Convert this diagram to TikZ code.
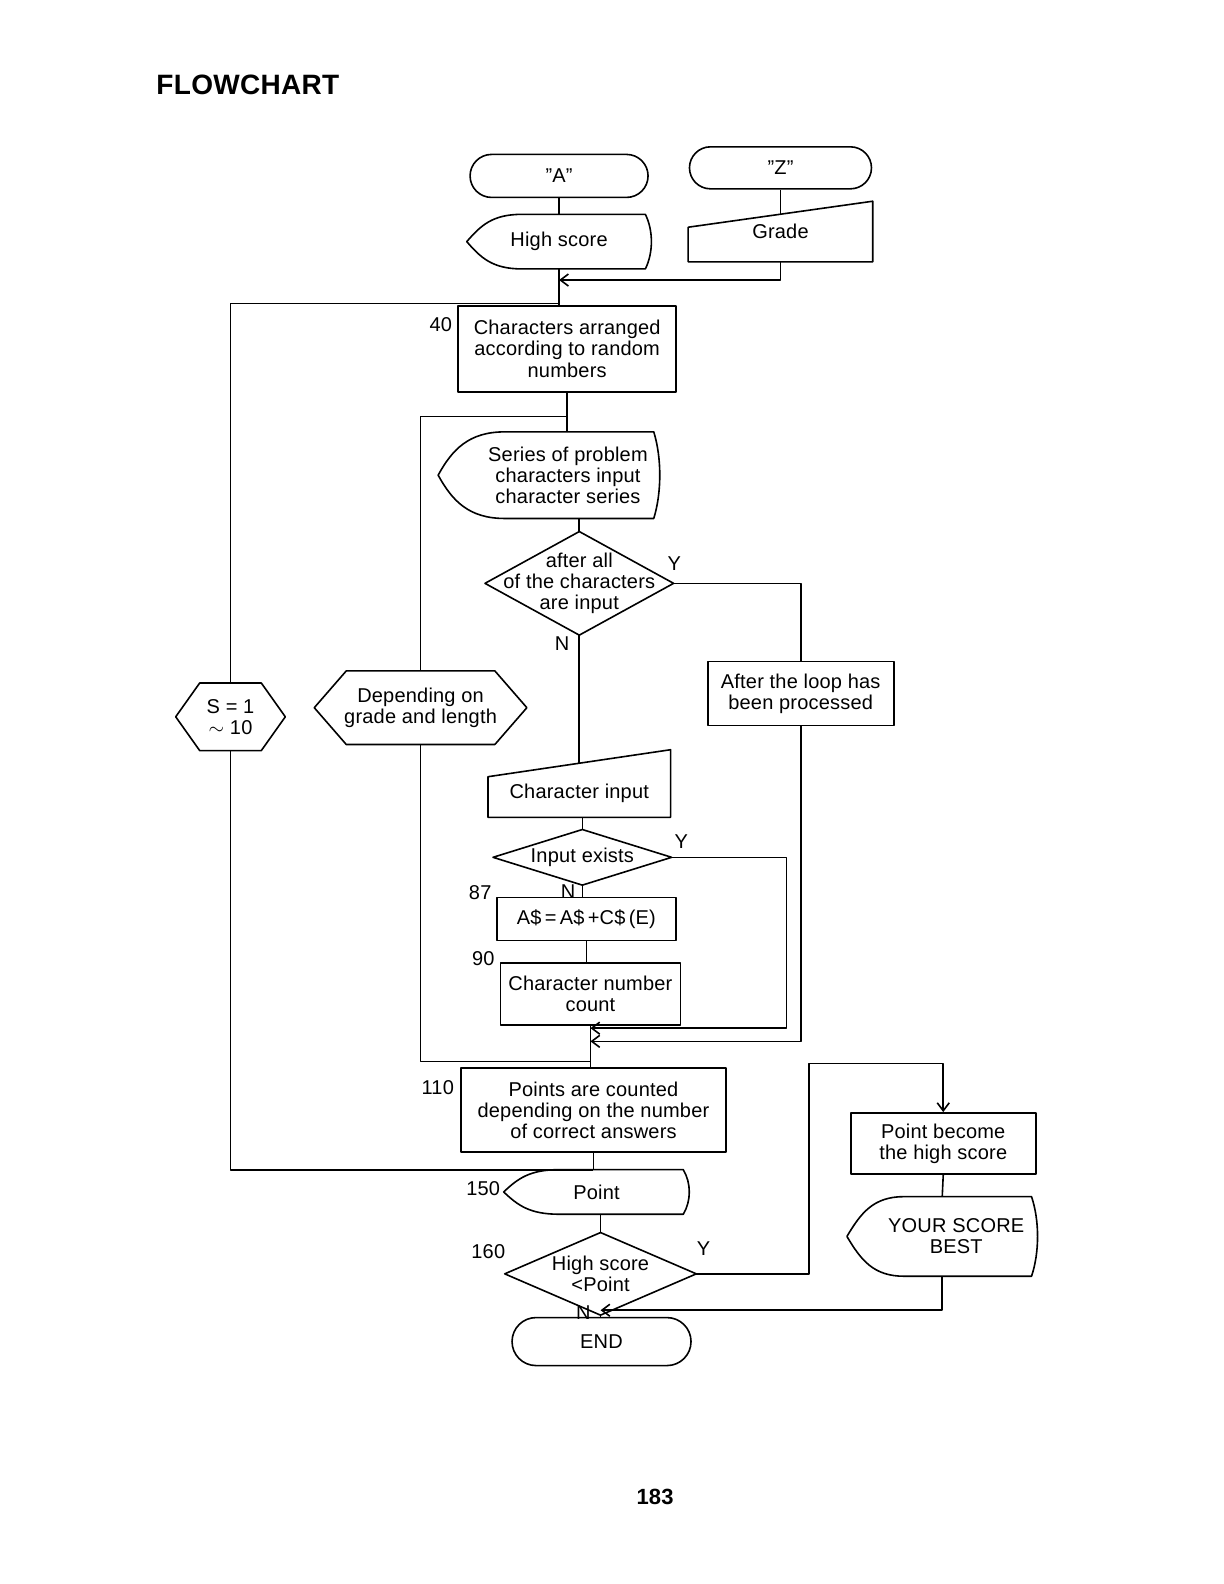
\documentclass[tikz,border=0pt]{standalone}
\usepackage{fontspec}
\setmainfont{Liberation Sans}[LetterSpace=1]
\usetikzlibrary{shapes.misc,calc,arrows.meta}

% outlines drawn from the anchors of a plain node
\newcommand\dispout[1]{\draw (#1.west) .. controls ($(#1.west)!.6!(#1.north west)+(14,0)$) and ($(#1.north west)!.14!(#1.north east)$) .. ($(#1.north west)!.3!(#1.north east)$) -- ([xshift=-3pt]#1.north east) .. controls ($(#1.north east)!.3!(#1.south east)+(2,0)$) and ($(#1.south east)!.3!(#1.north east)+(2,0)$) .. ([xshift=-3pt]#1.south east) -- ($(#1.south west)!.3!(#1.south east)$) .. controls ($(#1.south west)!.14!(#1.south east)$) and ($(#1.west)!.6!(#1.south west)+(14,0)$) .. (#1.west) -- cycle;}
\newcommand\manout[2]{\draw ([yshift=-#2]#1.north west) -- (#1.north east) -- (#1.south east) -- (#1.south west) -- cycle;}
\newcommand\hexout[2]{\draw (#1.west) -- ([xshift=#2]#1.north west) -- ([xshift=-#2]#1.north east) -- (#1.east) -- ([xshift=-#2]#1.south east) -- ([xshift=#2]#1.south west) -- cycle;}
\newcommand\decout[1]{\draw (#1.west) -- (#1.north) -- (#1.east) -- (#1.south) -- cycle;}

\tikzset{
  base/.style={inner sep=0pt, align=center},
  term/.style={base, draw, rounded rectangle},
  proc/.style={base, draw, rectangle},
  disp/.style={base},
  minput/.style={base},
  dec/.style={base},
  prep/.style={base},
  sz/.style 2 args={minimum width=#1, minimum height=#2},
}

\begin{document}
\begin{tikzpicture}[x=0.5055pt,y=-0.5055pt,line width=0.8pt,line join=round,
    >={Straight Barb[length=4pt,width=6pt]},font=\fontsize{10}{10.6}\selectfont]
\useasboundingbox (0,0) rectangle (1210.7,1566.8);

\node[anchor=west,inner sep=0pt,font=\bfseries\fontsize{14}{16}\selectfont] (title) at (154,84) {FLOWCHART};

% start
\node[term, sz={89pt}{21.5pt}] (A) at (553,174) {''A''};
\node[term, sz={91pt}{21pt}] (Z) at (772,166) {''Z''};
\node[disp, sz={91.5pt}{26.5pt}] (hs) at (553,239) {High score};
\node[minput, sz={91.5pt}{29.5pt}] (grade) at (772,229) {Grade};
\node[proc, sz={109pt}{43pt}] (b40) at (561,345) {Characters arranged\\according to random\\numbers};
\node[disp, sz={110pt}{42.5pt}, label={[base,xshift=9.5pt]center:Series of problem\\characters input\\character series}] (series) at (543,470) {};
\node[dec, sz={93.5pt}{51pt}] (d1) at (573,577) {after all\\of the characters\\are input};
\node[proc, sz={93pt}{32pt}] (after) at (792,686) {After the loop has\\been processed};
\node[minput, sz={90.5pt}{33pt}, label={[base,yshift=-5pt]center:Character input}] (cin) at (573,775) {};
\node[dec, sz={88.5pt}{27pt}] (d2) at (576,848) {Input exists};
\node[proc, sz={89.5pt}{21.5pt}] (asum) at (580,909) {A\$\,=\,A\$\,+C\$\,(E)};
\node[proc, sz={90pt}{31pt}] (cnt) at (584,983) {Character number\\count};
\node[proc, sz={132.5pt}{42pt}] (b110) at (587,1098) {Points are counted\\depending on the number\\of correct answers};
\node[disp, sz={92pt}{21.5pt}] (pt) at (590,1179) {Point};
\node[dec, sz={95pt}{40.5pt}] (d3) at (594,1260) {High score\\{<}Point};
\node[proc, sz={92.5pt}{30.5pt}] (pb) at (933,1131) {Point become\\the high score};
\node[disp, sz={94.5pt}{39pt}, label={[base,xshift=7pt]center:YOUR SCORE\\BEST}] (best) at (932,1223) {};
\node[term, sz={89.5pt}{24pt}] (end) at (595,1327) {END};
\node[prep, sz={54pt}{33pt}] (hexS) at (228,709) {S = 1\\$\sim$ 10};
\node[prep, sz={105.5pt}{36pt}] (hexD) at (416,700) {Depending on\\grade and length};

\dispout{hs} \dispout{series} \dispout{pt} \dispout{best}
\manout{grade}{13pt} \manout{cin}{13.5pt}
\decout{d1} \decout{d2} \decout{d3}
\hexout{hexS}{12pt} \hexout{hexD}{16pt}

% line numbers and branch labels
\node (n40) at (436,321) {40};
\node (n87) at (475,883) {87};
\node (n90) at (478,948) {90};
\node (n110) at (433,1076) {110};
\node (n150) at (478,1176) {150};
\node (n160) at (483,1238) {160};
\node (y1) at (667,557) {Y};
\node (no1) at (556,637) {N};
\node (y2) at (674,832) {Y};
\node (no2) at (562,882) {N};
\node (y3) at (696,1235) {Y};
\node (no3) at (577,1298) {N};

% junctions
\coordinate (j1) at (hs.south |- 0,277);
\coordinate (j2) at (hs.south |- 0,300);
\coordinate (j3) at (b40.south |- 0,412);
\coordinate (j4) at (cnt.south |- 0,1017);
\coordinate (j5) at (cnt.south |- 0,1030);
\coordinate (j7) at (cnt.south |- 0,1050);
\coordinate (j8) at (b110.south |- 0,1157);
\coordinate (j9) at (d3.south |- 0,1296);
\coordinate (c2) at (778,1017);
\coordinate (c3) at (800,1052);

% main column
\draw (A.south) -- (hs.north);
\draw (Z.south) -- ([yshift=-6.5pt]grade.north);
\draw[->] (grade.south) |- (j1);
\draw (hs.south) -- (hs.south |- b40.north);
\draw (b40.south) -- (b40.south |- series.north);
\draw (d1.north |- series.south) -- (d1.north);
\draw (d1.south) -- ([yshift=-6.75pt]cin.north);
\draw (d2.north |- cin.south) -- (d2.north);
\draw (d2.south) -- (d2.south |- asum.north);
\draw (asum.south) -- (asum.south |- cnt.north);
\draw (cnt.south) -- (cnt.south |- b110.north);
\draw (b110.south) -- (b110.south |- pt.north);
\draw (d3.north |- pt.south) -- (d3.north);
\draw (d3.south) -- (d3.south |- end.north);

% loops and branches
\draw (j2) -| (hexS.north);
\draw (hexS.south) |- (j8);
\draw (j3) -| (hexD.north);
\draw (hexD.south) |- (j7);
\draw (d1.east) -| (after.north);
\draw[->] (after.south) |- (j5);
\draw[->] (d2.east) -| (c2) -- (j4);
\draw[->] (d3.east) -| (c3) -| (pb.north);
\draw (pb.south) -- (best.north);
\draw[->] (best.south) |- (j9);

\node[font=\bfseries\fontsize{11}{13}\selectfont] (page) at (648,1481) {183};
\end{tikzpicture}
\end{document}
